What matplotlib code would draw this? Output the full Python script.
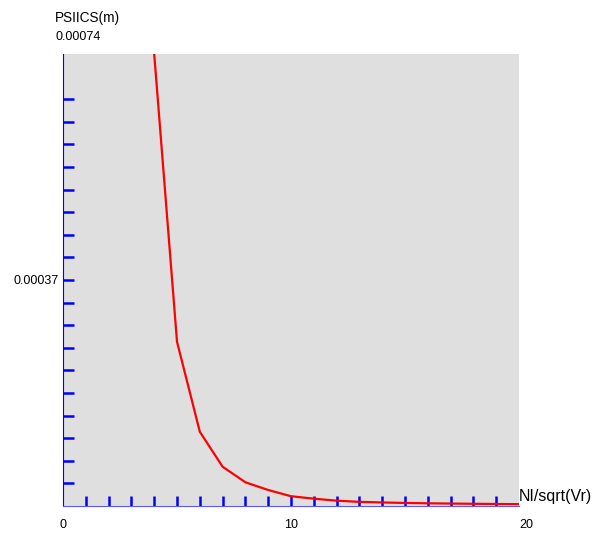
import matplotlib
matplotlib.use("Agg")
import matplotlib.pyplot as plt
from matplotlib.ticker import FixedLocator

plt.rcParams['font.family'] = ['Liberation Sans', 'DejaVu Sans']

# NI/sqrt(Vr) vs PSIICS(m)
x_vals = [4, 5, 6, 7, 8, 9, 10, 11, 12, 13, 14, 15, 16, 17, 18, 19, 20]
psiics = [0.00074, 0.000269, 0.0001216, 0.0000643, 0.0000388, 0.0000262,
          0.0000160, 0.0000120, 0.0000087, 0.0000068, 0.0000058, 0.0000050,
          0.0000044, 0.0000040, 0.0000036, 0.0000033, 0.0000030]
y_max = 0.00074
x_ticks = [0, 10, 20]
x_tick_labels = ["0", "10", "20"]

fig = plt.figure(figsize=(5.97, 5.34), dpi=100)
ax = fig.add_axes([63 / 597, 1 - 506 / 534, 456 / 597, 452 / 534])
ax.set_facecolor('#dfdfdf')

ax.plot(x_vals, psiics, color='red', linewidth=1.6, clip_on=True)

ax.set_xlim(0, 20)
ax.set_ylim(0, y_max)

for s in ['top', 'right']:
    ax.spines[s].set_visible(False)
ax.spines['left'].set_color('blue')
ax.spines['bottom'].set_color('#5a5aff')

# small ticks: every unit on x, every 1/20 of the range on y (none at the very top)
ax.xaxis.remove_overlapping_locs = False
ax.xaxis.set_minor_locator(FixedLocator(list(range(1, 20))))
ax.yaxis.set_minor_locator(FixedLocator([k * y_max / 20 for k in range(1, 19) if k != 10]))
ax.tick_params(which='both', direction='in', color='blue', width=1.8)
ax.tick_params(axis='x', which='minor', length=7)
ax.tick_params(axis='x', which='major', length=0, pad=9)
ax.tick_params(axis='y', which='both', length=8, pad=3)

ax.set_xticks(x_ticks)
ax.set_xticklabels(x_tick_labels, fontsize=9)
ax.get_xticklabels()[-1].set_horizontalalignment('left')
ax.set_yticks([y_max / 2])
ax.set_yticklabels(["0.00037"], fontsize=9)

fig.text(55 / 597, 1 - 18 / 534, "PSIICS(m)", fontsize=9.8, va='center', ha='left')
fig.text(55 / 597, 1 - 37 / 534, "0.00074", fontsize=9, va='center', ha='left')
fig.text(519 / 597, 1 - 496 / 534, "NI/sqrt(Vr)", fontsize=11.5, va='center', ha='left')

fig.savefig("out.png", dpi=100)
